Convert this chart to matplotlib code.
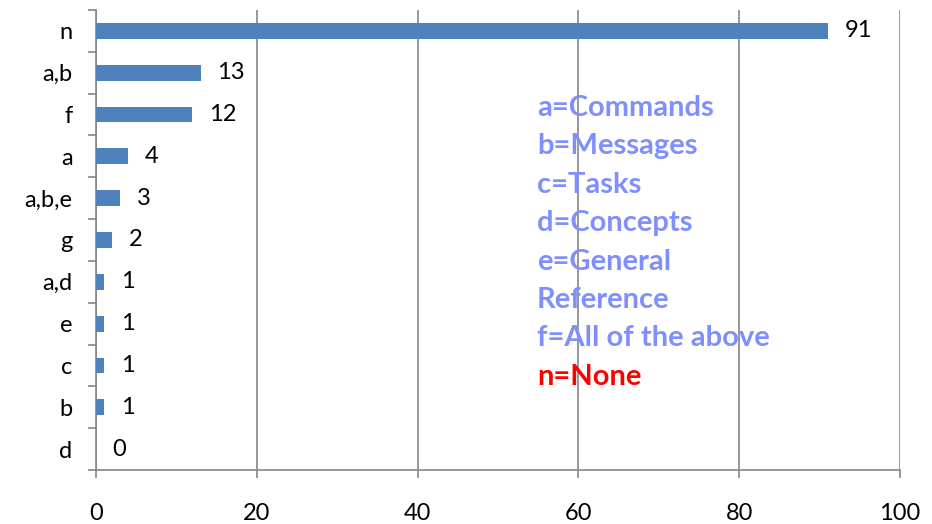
import matplotlib
matplotlib.use("Agg")
import matplotlib.pyplot as plt
import numpy as np

categories = ["n", "a,b", "f", "a", "a,b,e", "g", "a,d", "e", "c", "b", "d"]
values = [91, 13, 12, 4, 3, 2, 1, 1, 1, 1, 0]
key_lines = ["a=Commands", "b=Messages", "c=Tasks", "d=Concepts", "e=General",
             "Reference", "f=All of the above", "n=None"]
key_colors = ["#7f8fff"] * 7 + ["#ff0000"]

plt.rcParams['font.family'] = ['Lato', 'DejaVu Sans']

fig = plt.figure(figsize=(9.32, 5.24), dpi=100)
ax = fig.add_axes([96/932, 1-470/524, 804/932, 460/524])

n = len(categories)
ypos = np.arange(n)
ax.barh(ypos, values, height=0.38, color="#4f81bd", zorder=3)
ax.set_ylim(n - 0.5, -0.5)
ax.set_xlim(0, 100)
ax.set_xticks([0, 20, 40, 60, 80, 100])
ax.set_yticks(ypos)
ax.set_yticklabels(categories)
ax.set_yticks(np.arange(-0.5, n, 1), minor=True)

grid_c = "#868686"
ax.grid(axis="x", color=grid_c, linewidth=1.2, zorder=0)
for s in ["top", "right"]:
    ax.spines[s].set_visible(False)
for s in ["left", "bottom"]:
    ax.spines[s].set_color(grid_c)
    ax.spines[s].set_linewidth(1.2)

fs = 17
ax.tick_params(axis="y", which="major", length=0, pad=17, labelsize=fs)
ax.tick_params(axis="y", which="minor", length=6, width=1.2, color=grid_c)
ax.tick_params(axis="x", which="major", length=6, width=1.2, color=grid_c,
               pad=18, labelsize=fs)

for y, v in zip(ypos, values):
    ax.annotate(str(v), xy=(v, y), xytext=(12, 0), textcoords="offset points",
                ha="left", va="center", fontsize=fs, color="black")

for i, (t, c) in enumerate(zip(key_lines, key_colors)):
    fig.text(537/932, 1 - (108 + 38.4*i)/524, t, color=c, fontsize=21,
             fontweight="bold", ha="left", va="center")

fig.savefig("out.png", dpi=100)
